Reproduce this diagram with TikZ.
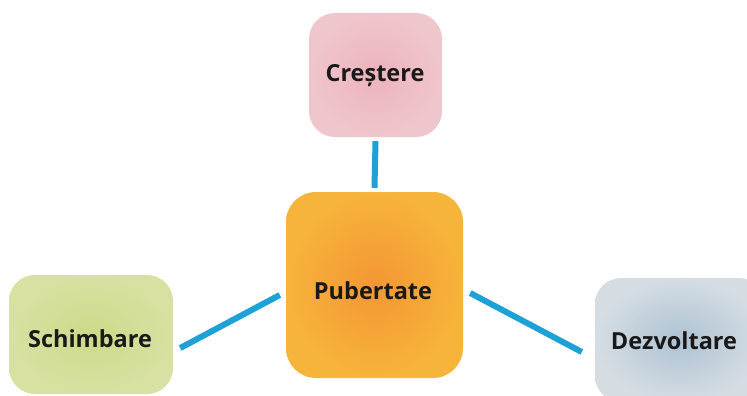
\documentclass[tikz,border=0pt]{standalone}
\usepackage{fontspec}
\setmainfont{Open Sans}
\usetikzlibrary{calc}
\definecolor{linkblue}{HTML}{1DA1D6}
\definecolor{pinkout}{HTML}{F0C6CD}
\definecolor{pinkin}{HTML}{ECB2BC}
\definecolor{orout}{HTML}{F7B43A}
\definecolor{orin}{HTML}{F39634}
\definecolor{grout}{HTML}{D8E1A2}
\definecolor{grin}{HTML}{CCDA88}
\definecolor{blout}{HTML}{D5DDE3}
\definecolor{blin}{HTML}{AEC2D3}
\tikzset{
  lbl/.style={font=\fontsize{23.5}{27}\selectfont\bfseries, text=black!90, inner sep=0pt},
  card/.style={rounded corners=26pt, inner sep=0pt, lbl},
  link/.style={draw=linkblue, line width=6pt}
}
\begin{document}
\begin{tikzpicture}[x=1pt,y=-1pt]
\clip (0,0) rectangle (747,396);
\fill[white] (0,0) rectangle (747,396);
\node[card, minimum width=133pt, minimum height=124pt, inner color=pinkin, outer color=pinkout] (cr) at (375.5,75) {};
\node[lbl] (crt) at (375,76) {Creștere};
\node[card, rounded corners=30pt, minimum width=177pt, minimum height=186pt, inner color=orin, outer color=orout] (pu) at (374.5,285) {};
\node[lbl] (put) at (373,291) {Pubertate};
\node[card, minimum width=164pt, minimum height=119pt, inner color=grin, outer color=grout] (sc) at (91,334.5) {};
\node[lbl] (sct) at (90,339) {Schimbare};
\node[card, minimum width=170pt, minimum height=124pt, inner color=blin, outer color=blout] (dz) at (680,340) {};
\node[lbl] (dzt) at (674,341) {Dezvoltare};
\draw[link] ($(cr.south)+(0,4)$) -- ($(pu.north)+(0,-4)$);
\draw[link] ($(sc.east)+(7,13.5)$) -- ($(pu.west)+(-6,10)$);
\draw[link] ($(pu.east)+(7,8)$) -- ($(dz.west)+(-13,12)$);
\end{tikzpicture}
\end{document}
